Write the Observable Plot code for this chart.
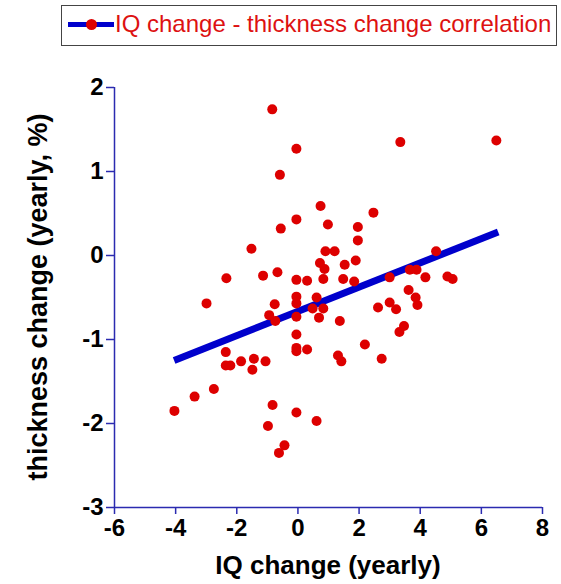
<!DOCTYPE html>
<html>
<head>
<meta charset="utf-8">
<script src="https://cdn.jsdelivr.net/npm/d3@7"></script>
<script src="https://cdn.jsdelivr.net/npm/@observablehq/plot@0.6"></script>
<style>
  html, body { margin: 0; padding: 0; background: #fff; }
  body { width: 561px; height: 584px; overflow: hidden; font-family: "Liberation Sans", Arial, sans-serif; }
  #legend { position: relative; width: 561px; height: 50px; }
  #legend .box { position: absolute; left: 61px; top: 5px; width: 494px; height: 39px; border: 1px solid #444; box-sizing: content-box; }
  #legend .sym { position: absolute; left: 68px; top: 22px; width: 46px; height: 5px; background: #0000cc; }
  #legend .dot { position: absolute; left: 86px; top: 19px; width: 11px; height: 11px; border-radius: 50%; background: #dd0000; }
  #legend .txt { position: absolute; left: 115px; top: 10px; font-size: 24px; line-height: 28px; color: #dd1111; white-space: nowrap; }
</style>
</head>
<body>
<div id="legend"><div class="box"></div><div class="sym"></div><div class="dot"></div><div class="txt">IQ change - thickness change correlation</div></div>
<div id="chart"></div>
<script>
const iqChange = [
  -0.84, -0.05, -0.59, 0.74, -0.05, -0.56, 0.98, -1.52, 0.90, 0.72,
  0.87, -2.34, -1.14, -0.67, -0.05, 0.30, 0.83, 3.35, 6.49, 2.47,
  1.96, 1.96, 1.20, 1.53, 1.89, 1.48, 1.84, 4.52, 3.00, 3.66,
  3.88, 4.17, 4.89, 5.06, 3.62, -2.99, -0.76, -0.94, -0.74, -0.05,
  -0.05, -0.05, 0.61, 0.48, 0.83, 0.69, -0.05, -0.05, -0.05, 0.30,
  -2.36, -2.36, -2.21, -1.86, -1.44, -1.49, -1.06, -2.75, -3.38, -4.04,
  -0.83, -0.98, -0.05, 0.61, -0.44, -0.62, 1.37, 2.62, 3.00, 3.21,
  3.85, 3.91, 3.47, 3.32, 2.19, 1.31, 1.42, 2.74
];
const thicknessChange = [
  1.74, 1.27, 0.96, 0.59, 0.43, 0.32, 0.37, 0.08, 0.05, -0.09,
  -0.16, -0.27, -0.24, -0.20, -0.29, -0.30, -0.28, 1.35, 1.37, 0.51,
  0.34, 0.18, 0.05, -0.11, -0.06, -0.28, -0.31, 0.05, -0.26, -0.17,
  -0.17, -0.26, -0.25, -0.28, -0.41, -0.57, -0.58, -0.71, -0.78, -0.49,
  -0.57, -0.73, -0.50, -0.63, -0.63, -0.74, -0.94, -1.10, -1.14, -1.12,
  -1.15, -1.31, -1.31, -1.26, -1.23, -1.36, -1.26, -1.59, -1.68, -1.85,
  -1.78, -2.03, -1.87, -1.97, -2.26, -2.35, -0.78, -0.62, -0.56, -0.64,
  -0.50, -0.59, -0.84, -0.91, -1.06, -1.19, -1.26, -1.23
];
const fitX = [-4.05, 6.55];
const fitY = [-1.25, 0.28];
const xTicks = [-6, -4, -2, 0, 2, 4, 6, 8];
const yTicks = [-3, -2, -1, 0, 1, 2];
const xTitle = "IQ change (yearly)";
const yTitle = "thickness change (yearly, %)";

const points = iqChange.map((x, i) => ({x, y: thicknessChange[i]}));
const fit = fitX.map((x, i) => ({x, y: fitY[i]}));

const axisColor = "#2b2bb0";
const W = 561, H = 534;
const mL = 114, mR = 19, mT = 37, mB = 77;

const plot = Plot.plot({
  width: W, height: H,
  marginLeft: mL, marginRight: mR, marginTop: mT, marginBottom: mB,
  style: {fontFamily: "'Liberation Sans', Arial, sans-serif", fontSize: "24px", fontWeight: "bold", color: "black", background: "white"},
  x: {domain: [-6, 8]},
  y: {domain: [-3, 2]},
  marks: [
    Plot.ruleX([-6], {stroke: axisColor, strokeWidth: 1.5}),
    Plot.ruleY([-3], {stroke: axisColor, strokeWidth: 1.5}),
    Plot.axisX({ticks: xTicks, tickFormat: d => String(d), tickSize: 7, tickPadding: 4, stroke: axisColor, strokeWidth: 1.5, fill: "black", label: null, fontSize: 24, fontWeight: "bold"}),
    Plot.axisY({ticks: yTicks, tickFormat: d => String(d), tickSize: 8, tickPadding: 3, stroke: axisColor, strokeWidth: 1.5, fill: "black", label: null, fontSize: 24, fontWeight: "bold"}),
    Plot.line(fit, {x: "x", y: "y", stroke: "#0000cc", strokeWidth: 7, strokeLinecap: "butt"}),
    Plot.dot(points, {x: "x", y: "y", r: 5, fill: "#dd0000", stroke: "none"})
  ]
});

const svg = d3.select(plot);
svg.append("text")
  .attr("x", mL + (W - mL - mR) / 2)
  .attr("y", H - 10)
  .attr("text-anchor", "middle")
  .attr("font-size", 26)
  .attr("font-weight", "bold")
  .attr("fill", "black")
  .text(xTitle);
svg.append("text")
  .attr("transform", `translate(47, ${mT + (H - mT - mB) / 2}) rotate(-90)`)
  .attr("text-anchor", "middle")
  .attr("font-size", 27)
  .attr("font-weight", "bold")
  .attr("fill", "black")
  .text(yTitle);

document.getElementById("chart").appendChild(plot);
</script>
</body>
</html>
